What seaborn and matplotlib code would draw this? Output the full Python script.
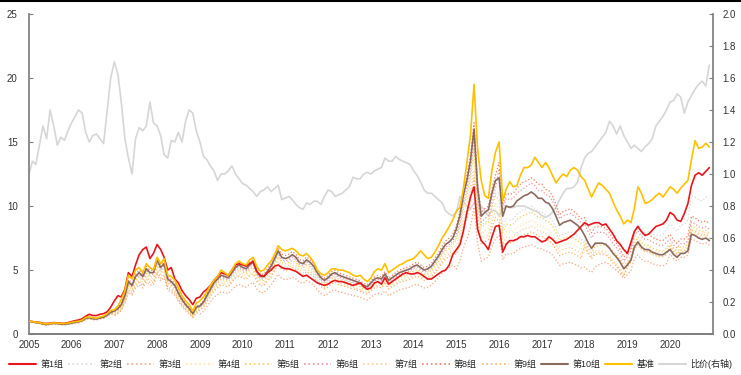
import matplotlib
matplotlib.use("Agg")
import pandas as pd
import matplotlib.pyplot as plt
import seaborn as sns
from matplotlib.lines import Line2D

# monthly values, Jan 2005 - Dec 2020
dates = pd.date_range("2005-01-01", periods=192, freq="MS")

benchmark = [
    1.00, 0.98, 0.92, 0.90, 0.82, 0.80, 0.84, 0.88, 0.86, 0.83, 0.82, 0.86,
    0.92, 0.98, 1.00, 1.10, 1.30, 1.35, 1.28, 1.25, 1.35, 1.42, 1.60, 1.85,
    1.90, 2.20, 2.70, 3.40, 4.60, 4.30, 5.00, 5.20, 4.80, 5.50, 5.20, 5.00,
    6.00, 5.50, 5.90, 4.60, 4.50, 4.20, 3.60, 3.00, 2.60, 2.30, 1.80, 2.40,
    2.60, 2.90, 3.30, 3.80, 4.20, 4.50, 5.00, 4.80, 4.60, 5.00, 5.50, 5.70,
    5.50, 5.40, 5.80, 6.00, 5.30, 4.90, 5.00, 5.40, 5.70, 6.20, 6.90, 6.60,
    6.50, 6.60, 6.70, 6.50, 6.20, 6.10, 6.30, 6.00, 5.60, 5.00, 4.70, 4.60,
    4.80, 5.10, 5.10, 5.00, 5.00, 4.90, 4.80, 4.60, 4.50, 4.60, 4.30, 4.10,
    4.40, 4.90, 5.10, 5.00, 5.50, 4.80, 5.00, 5.20, 5.40, 5.50, 5.70, 5.80,
    5.90, 6.20, 6.50, 6.20, 5.90, 6.00, 6.40, 6.90, 7.50, 7.90, 8.40, 8.90,
    9.60, 9.90, 11.3, 13.4, 15.5, 19.5, 14.5, 12.0, 10.8, 10.6, 12.8, 14.2,
    15.0, 10.4, 11.3, 11.9, 11.5, 11.6, 12.4, 13.0, 13.0, 13.2, 13.8, 13.4,
    13.0, 13.4, 13.0, 12.4, 11.8, 12.2, 12.5, 12.3, 12.8, 13.0, 12.8, 12.3,
    12.0, 11.3, 10.7, 11.3, 11.8, 11.6, 11.3, 11.0, 10.3, 9.70, 9.20, 8.60,
    8.90, 8.70, 9.80, 11.5, 11.0, 10.2, 10.3, 10.5, 10.8, 11.0, 10.7, 11.1,
    11.5, 11.3, 11.0, 11.4, 11.7, 12.0, 13.6, 15.1, 14.5, 14.6, 14.9, 14.6,
]

group1 = [
    1.00, 0.98, 0.93, 0.92, 0.85, 0.83, 0.86, 0.90, 0.88, 0.85, 0.84, 0.90,
    0.98, 1.05, 1.10, 1.20, 1.40, 1.55, 1.45, 1.45, 1.55, 1.60, 1.75, 2.10,
    2.60, 3.00, 2.90, 3.50, 4.80, 4.50, 5.40, 6.20, 6.60, 6.80, 5.90, 6.30,
    7.00, 6.60, 6.00, 5.00, 5.20, 4.30, 4.00, 3.40, 3.00, 2.70, 2.30, 2.80,
    2.90, 3.30, 3.50, 3.80, 4.20, 4.50, 4.80, 4.70, 4.60, 5.00, 5.40, 5.50,
    5.40, 5.30, 5.50, 5.70, 4.90, 4.60, 4.50, 4.80, 5.00, 5.30, 5.40, 5.20,
    5.10, 5.10, 5.00, 4.90, 4.70, 4.50, 4.60, 4.40, 4.20, 4.00, 3.90, 3.80,
    3.90, 4.10, 4.20, 4.10, 4.10, 4.00, 3.90, 3.80, 3.90, 4.00, 3.70, 3.50,
    3.60, 4.00, 4.10, 3.90, 4.40, 3.90, 4.10, 4.30, 4.50, 4.70, 4.80, 4.70,
    4.70, 4.80, 4.70, 4.50, 4.30, 4.30, 4.50, 4.70, 4.90, 5.00, 5.40, 6.20,
    6.60, 7.00, 8.00, 9.50, 10.7, 11.5, 8.20, 7.30, 7.00, 6.60, 7.60, 8.40,
    8.50, 6.40, 7.00, 7.30, 7.30, 7.40, 7.60, 7.60, 7.70, 7.60, 7.60, 7.40,
    7.20, 7.30, 7.60, 7.40, 7.10, 7.20, 7.30, 7.40, 7.60, 7.80, 8.10, 8.40,
    8.70, 8.50, 8.60, 8.70, 8.70, 8.50, 8.60, 8.20, 7.80, 7.30, 7.00, 6.60,
    6.30, 7.20, 8.00, 8.40, 8.00, 7.70, 7.80, 8.10, 8.40, 8.50, 8.60, 8.90,
    9.50, 9.30, 8.90, 8.80, 9.40, 10.2, 11.6, 12.4, 12.6, 12.4, 12.7, 13.0,
]

group2 = [
    1.00, 0.97, 0.90, 0.88, 0.78, 0.75, 0.80, 0.84, 0.82, 0.78, 0.77, 0.80,
    0.86, 0.92, 0.95, 1.05, 1.22, 1.28, 1.20, 1.18, 1.26, 1.32, 1.48, 1.70,
    1.71, 1.90, 2.19, 2.85, 3.90, 3.61, 4.28, 4.56, 4.28, 4.85, 4.56, 4.56,
    5.51, 4.94, 5.23, 4.09, 3.90, 3.61, 3.04, 2.57, 2.19, 1.90, 1.52, 2.00,
    2.09, 2.38, 2.85, 3.33, 3.80, 4.09, 4.37, 4.28, 4.18, 4.56, 4.94, 5.13,
    4.94, 4.85, 5.13, 5.32, 4.66, 4.28, 4.28, 4.66, 5.04, 5.61, 6.18, 5.70,
    5.61, 5.70, 5.89, 5.70, 5.32, 5.23, 5.51, 5.32, 5.04, 4.56, 4.18, 3.99,
    4.18, 4.47, 4.56, 4.37, 4.28, 4.18, 4.09, 3.99, 3.90, 3.80, 3.61, 3.52,
    3.80, 4.09, 4.18, 4.09, 4.47, 3.99, 4.18, 4.37, 4.56, 4.66, 4.75, 4.85,
    5.04, 5.13, 4.94, 4.75, 4.85, 5.04, 5.42, 5.80, 6.27, 6.65, 6.84, 7.13,
    7.54, 8.56, 9.94, 11.0, 12.4, 14.7, 10.6, 8.46, 8.74, 8.92, 10.1, 11.0,
    11.0, 8.28, 9.00, 8.91, 9.00, 9.36, 9.54, 9.72, 9.81, 9.99, 9.81, 9.54,
    9.54, 9.27, 9.18, 8.82, 8.28, 7.65, 7.83, 7.92, 8.01, 7.83, 7.65, 7.38,
    7.32, 6.82, 6.50, 6.96, 7.03, 7.10, 7.07, 6.83, 6.49, 6.24, 5.88, 5.46,
    6.21, 6.73, 7.96, 8.50, 8.09, 7.92, 7.99, 7.81, 7.75, 7.69, 7.81, 8.19,
    8.71, 8.25, 8.04, 8.51, 8.57, 8.90, 10.8, 10.7, 10.5, 10.4, 10.7, 10.6,
]

group3 = [
    1.00, 0.93, 0.85, 0.83, 0.73, 0.70, 0.75, 0.79, 0.77, 0.73, 0.72, 0.75,
    0.81, 0.86, 0.89, 0.99, 1.15, 1.20, 1.13, 1.11, 1.18, 1.24, 1.39, 1.60,
    1.44, 1.60, 1.84, 2.40, 3.28, 3.04, 3.60, 3.84, 3.60, 4.08, 3.84, 3.84,
    4.64, 4.16, 4.40, 3.44, 3.28, 3.04, 2.56, 2.16, 1.84, 1.60, 1.28, 1.68,
    1.58, 1.80, 2.16, 2.52, 2.88, 3.10, 3.31, 3.24, 3.17, 3.46, 3.74, 3.89,
    3.74, 3.67, 3.89, 4.03, 3.53, 3.24, 3.24, 3.53, 3.82, 4.25, 4.68, 4.32,
    4.25, 4.32, 4.46, 4.32, 4.03, 3.96, 4.18, 4.03, 3.82, 3.46, 3.17, 3.02,
    3.17, 3.38, 3.46, 3.31, 3.24, 3.17, 3.10, 3.02, 2.95, 2.88, 2.74, 2.66,
    2.88, 3.10, 3.17, 3.10, 3.38, 3.02, 3.17, 3.31, 3.46, 3.53, 3.60, 3.67,
    3.82, 3.89, 3.74, 3.60, 3.67, 3.82, 4.10, 4.39, 4.75, 5.04, 5.18, 5.40,
    5.08, 5.77, 6.70, 7.44, 8.37, 9.92, 7.13, 5.70, 5.89, 6.01, 6.82, 7.44,
    7.69, 5.80, 6.30, 6.24, 6.30, 6.55, 6.68, 6.80, 6.87, 6.99, 6.87, 6.68,
    6.68, 6.49, 6.43, 6.17, 5.80, 5.36, 5.48, 5.54, 5.61, 5.48, 5.36, 5.17,
    5.24, 4.97, 4.82, 5.25, 5.40, 5.54, 5.60, 5.43, 5.17, 4.98, 4.70, 4.34,
    4.64, 4.99, 5.85, 6.19, 5.85, 5.68, 5.68, 5.50, 5.42, 5.33, 5.33, 5.50,
    6.27, 5.89, 5.70, 5.99, 5.99, 6.18, 7.41, 7.32, 7.13, 7.03, 7.13, 6.94,
]

group4 = [
    1.00, 0.95, 0.88, 0.85, 0.76, 0.73, 0.78, 0.81, 0.80, 0.76, 0.75, 0.78,
    0.83, 0.89, 0.92, 1.02, 1.18, 1.24, 1.16, 1.14, 1.22, 1.28, 1.44, 1.65,
    1.62, 1.80, 2.07, 2.70, 3.69, 3.42, 4.05, 4.32, 4.05, 4.59, 4.32, 4.32,
    5.22, 4.68, 4.95, 3.87, 3.69, 3.42, 2.88, 2.43, 2.07, 1.80, 1.44, 1.89,
    1.98, 2.25, 2.70, 3.15, 3.60, 3.87, 4.14, 4.05, 3.96, 4.32, 4.68, 4.86,
    4.68, 4.59, 4.86, 5.04, 4.41, 4.05, 4.05, 4.41, 4.77, 5.31, 5.85, 5.40,
    5.31, 5.40, 5.58, 5.40, 5.04, 4.95, 5.22, 5.04, 4.77, 4.32, 3.96, 3.78,
    3.96, 4.23, 4.32, 4.14, 4.05, 3.96, 3.87, 3.78, 3.69, 3.60, 3.42, 3.33,
    3.60, 3.87, 3.96, 3.87, 4.23, 3.78, 3.96, 4.14, 4.32, 4.41, 4.50, 4.59,
    4.77, 4.86, 4.68, 4.50, 4.59, 4.77, 5.13, 5.49, 5.94, 6.30, 6.48, 6.75,
    6.97, 7.91, 9.18, 10.2, 11.5, 13.6, 9.78, 7.82, 8.08, 8.25, 9.35, 10.2,
    9.76, 7.36, 8.00, 7.92, 8.00, 8.32, 8.48, 8.64, 8.72, 8.88, 8.72, 8.48,
    8.48, 8.24, 8.16, 7.84, 7.36, 6.80, 6.96, 7.04, 7.12, 6.96, 6.80, 6.56,
    7.08, 6.53, 6.16, 6.53, 6.53, 6.53, 6.44, 6.16, 5.80, 5.52, 5.15, 4.69,
    5.56, 5.97, 7.00, 7.42, 7.00, 6.80, 6.80, 6.59, 6.49, 6.39, 6.39, 6.59,
    7.00, 6.57, 6.36, 6.68, 6.68, 6.89, 8.27, 8.16, 7.95, 7.84, 7.95, 7.74,
]

group5 = [
    1.00, 0.95, 0.88, 0.86, 0.76, 0.74, 0.78, 0.82, 0.80, 0.76, 0.75, 0.78,
    0.84, 0.90, 0.93, 1.03, 1.20, 1.25, 1.18, 1.16, 1.23, 1.29, 1.45, 1.67,
    1.67, 1.86, 2.14, 2.79, 3.81, 3.53, 4.19, 4.46, 4.19, 4.74, 4.46, 4.46,
    5.39, 4.84, 5.12, 4.00, 3.81, 3.53, 2.98, 2.51, 2.14, 1.86, 1.49, 1.95,
    2.05, 2.33, 2.79, 3.26, 3.72, 4.00, 4.28, 4.19, 4.09, 4.46, 4.84, 5.02,
    4.84, 4.74, 5.02, 5.21, 4.56, 4.19, 4.19, 4.56, 4.93, 5.49, 6.05, 5.58,
    5.49, 5.58, 5.77, 5.58, 5.21, 5.12, 5.39, 5.21, 4.93, 4.46, 4.09, 3.91,
    4.09, 4.37, 4.46, 4.28, 4.19, 4.09, 4.00, 3.91, 3.81, 3.72, 3.53, 3.44,
    3.72, 4.00, 4.09, 4.00, 4.37, 3.91, 4.09, 4.28, 4.46, 4.56, 4.65, 4.74,
    4.93, 5.02, 4.84, 4.65, 4.74, 4.93, 5.30, 5.67, 6.14, 6.51, 6.70, 6.98,
    7.38, 8.37, 9.72, 10.8, 12.2, 14.4, 10.4, 8.28, 8.55, 8.73, 9.90, 10.8,
    10.5, 7.91, 8.60, 8.51, 8.60, 8.94, 9.12, 9.29, 9.37, 9.55, 9.37, 9.12,
    9.12, 8.86, 8.77, 8.43, 7.91, 7.31, 7.48, 7.57, 7.65, 7.48, 7.31, 7.05,
    7.20, 6.70, 6.36, 6.82, 6.89, 6.96, 6.93, 6.70, 6.36, 6.12, 5.77, 5.30,
    5.67, 6.09, 7.14, 7.56, 7.14, 6.93, 6.93, 6.72, 6.62, 6.51, 6.51, 6.72,
    7.13, 6.70, 6.48, 6.80, 6.80, 7.02, 8.42, 8.32, 8.10, 7.99, 8.10, 7.88,
]

group6 = [
    1.00, 0.96, 0.89, 0.87, 0.77, 0.74, 0.79, 0.83, 0.81, 0.77, 0.76, 0.79,
    0.85, 0.91, 0.94, 1.04, 1.21, 1.27, 1.19, 1.17, 1.25, 1.31, 1.47, 1.68,
    1.75, 1.94, 2.23, 2.91, 3.98, 3.69, 4.37, 4.66, 4.37, 4.95, 4.66, 4.66,
    5.63, 5.04, 5.34, 4.17, 3.98, 3.69, 3.10, 2.62, 2.23, 1.94, 1.55, 2.04,
    2.13, 2.43, 2.91, 3.40, 3.88, 4.17, 4.46, 4.37, 4.27, 4.66, 5.04, 5.24,
    5.04, 4.95, 5.24, 5.43, 4.75, 4.37, 4.37, 4.75, 5.14, 5.72, 6.31, 5.82,
    5.72, 5.82, 6.01, 5.82, 5.43, 5.34, 5.63, 5.43, 5.14, 4.66, 4.27, 4.07,
    4.27, 4.56, 4.66, 4.46, 4.37, 4.27, 4.17, 4.07, 3.98, 3.88, 3.69, 3.59,
    3.88, 4.17, 4.27, 4.17, 4.56, 4.07, 4.27, 4.46, 4.66, 4.75, 4.85, 4.95,
    5.14, 5.24, 5.04, 4.85, 4.95, 5.14, 5.53, 5.92, 6.40, 6.79, 6.98, 7.28,
    7.79, 8.84, 10.3, 11.4, 12.8, 15.2, 10.9, 8.74, 9.03, 9.22, 10.5, 11.4,
    12.9, 9.75, 10.6, 10.5, 10.6, 11.0, 11.2, 11.4, 11.6, 11.8, 11.6, 11.2,
    11.2, 10.9, 10.8, 10.4, 9.75, 9.01, 9.22, 9.33, 9.43, 9.22, 9.01, 8.69,
    8.62, 7.95, 7.50, 7.95, 7.95, 7.95, 7.84, 7.50, 7.06, 6.72, 6.27, 5.71,
    6.05, 6.50, 7.62, 8.06, 7.62, 7.39, 7.39, 7.17, 7.06, 6.94, 6.94, 7.17,
    7.39, 6.94, 6.72, 7.06, 7.06, 7.28, 8.74, 8.62, 8.40, 8.29, 8.40, 8.18,
]

group7 = [
    1.00, 0.94, 0.87, 0.85, 0.75, 0.72, 0.77, 0.81, 0.79, 0.75, 0.74, 0.77,
    0.83, 0.88, 0.91, 1.01, 1.17, 1.23, 1.15, 1.13, 1.21, 1.27, 1.42, 1.63,
    1.57, 1.74, 2.00, 2.61, 3.57, 3.31, 3.92, 4.18, 3.92, 4.44, 4.18, 4.18,
    5.05, 4.52, 4.79, 3.74, 3.57, 3.31, 2.78, 2.35, 2.00, 1.74, 1.39, 1.83,
    1.91, 2.18, 2.61, 3.05, 3.48, 3.74, 4.00, 3.92, 3.83, 4.18, 4.52, 4.70,
    4.52, 4.44, 4.70, 4.87, 4.26, 3.92, 3.92, 4.26, 4.61, 5.13, 5.66, 5.22,
    5.13, 5.22, 5.39, 5.22, 4.87, 4.79, 5.05, 4.87, 4.61, 4.18, 3.83, 3.65,
    3.83, 4.09, 4.18, 4.00, 3.92, 3.83, 3.74, 3.65, 3.57, 3.48, 3.31, 3.22,
    3.48, 3.74, 3.83, 3.74, 4.09, 3.65, 3.83, 4.00, 4.18, 4.26, 4.35, 4.44,
    4.61, 4.70, 4.52, 4.35, 4.44, 4.61, 4.96, 5.31, 5.74, 6.09, 6.26, 6.53,
    6.56, 7.44, 8.64, 9.60, 10.8, 12.8, 9.20, 7.36, 7.60, 7.76, 8.80, 9.60,
    9.27, 6.99, 7.60, 7.52, 7.60, 7.90, 8.06, 8.21, 8.28, 8.44, 8.28, 8.06,
    8.06, 7.83, 7.75, 7.45, 6.99, 6.46, 6.61, 6.69, 6.76, 6.61, 6.46, 6.23,
    6.93, 6.39, 6.03, 6.39, 6.39, 6.39, 6.30, 6.03, 5.67, 5.40, 5.04, 4.59,
    5.24, 5.63, 6.60, 6.98, 6.60, 6.40, 6.40, 6.21, 6.11, 6.01, 6.01, 6.21,
    6.73, 6.32, 6.12, 6.43, 6.43, 6.63, 7.96, 7.85, 7.65, 7.55, 7.65, 7.45,
]

group8 = [
    1.00, 0.97, 0.91, 0.89, 0.79, 0.76, 0.81, 0.85, 0.83, 0.79, 0.78, 0.82,
    0.88, 0.94, 0.97, 1.07, 1.25, 1.31, 1.23, 1.21, 1.29, 1.35, 1.52, 1.75,
    1.87, 2.08, 2.39, 3.12, 4.26, 3.95, 4.68, 4.99, 4.68, 5.30, 4.99, 4.99,
    6.03, 5.41, 5.72, 4.47, 4.26, 3.95, 3.33, 2.81, 2.39, 2.08, 1.66, 2.18,
    2.29, 2.60, 3.12, 3.64, 4.16, 4.47, 4.78, 4.68, 4.58, 4.99, 5.41, 5.62,
    5.41, 5.30, 5.62, 5.82, 5.10, 4.68, 4.68, 5.10, 5.51, 6.14, 6.76, 6.24,
    6.14, 6.24, 6.45, 6.24, 5.82, 5.72, 6.03, 5.82, 5.51, 4.99, 4.58, 4.37,
    4.58, 4.89, 4.99, 4.78, 4.68, 4.58, 4.47, 4.37, 4.26, 4.16, 3.95, 3.85,
    4.16, 4.47, 4.58, 4.47, 4.89, 4.37, 4.58, 4.78, 4.99, 5.10, 5.20, 5.30,
    5.51, 5.62, 5.41, 5.20, 5.30, 5.51, 5.93, 6.34, 6.86, 7.28, 7.49, 7.80,
    8.45, 9.58, 11.1, 12.4, 13.9, 16.5, 11.8, 9.48, 9.79, 9.99, 11.3, 12.4,
    13.4, 10.1, 11.0, 10.9, 11.0, 11.4, 11.7, 11.9, 12.0, 12.2, 12.0, 11.7,
    11.7, 11.3, 11.2, 10.8, 10.1, 9.35, 9.57, 9.68, 9.79, 9.57, 9.35, 9.02,
    9.09, 8.38, 7.91, 8.38, 8.38, 8.38, 8.26, 7.91, 7.43, 7.08, 6.61, 6.02,
    6.37, 6.84, 8.02, 8.50, 8.02, 7.79, 7.79, 7.55, 7.43, 7.32, 7.32, 7.55,
    7.79, 7.32, 7.08, 7.43, 7.43, 7.67, 9.20, 9.09, 8.85, 8.73, 8.85, 8.61,
]

group9 = [
    1.00, 0.94, 0.86, 0.84, 0.74, 0.71, 0.76, 0.80, 0.78, 0.74, 0.73, 0.76,
    0.82, 0.87, 0.90, 1.00, 1.16, 1.22, 1.14, 1.12, 1.20, 1.25, 1.41, 1.62,
    1.51, 1.68, 1.93, 2.52, 3.44, 3.19, 3.78, 4.03, 3.78, 4.28, 4.03, 4.03,
    4.87, 4.37, 4.62, 3.61, 3.44, 3.19, 2.69, 2.27, 1.93, 1.68, 1.34, 1.76,
    1.85, 2.10, 2.52, 2.94, 3.36, 3.61, 3.86, 3.78, 3.70, 4.03, 4.37, 4.54,
    4.37, 4.28, 4.54, 4.70, 4.12, 3.78, 3.78, 4.12, 4.45, 4.96, 5.46, 5.04,
    4.96, 5.04, 5.21, 5.04, 4.70, 4.62, 4.87, 4.70, 4.45, 4.03, 3.70, 3.53,
    3.70, 3.95, 4.03, 3.86, 3.78, 3.70, 3.61, 3.53, 3.44, 3.36, 3.19, 3.11,
    3.36, 3.61, 3.70, 3.61, 3.95, 3.53, 3.70, 3.86, 4.03, 4.12, 4.20, 4.28,
    4.45, 4.54, 4.37, 4.20, 4.28, 4.45, 4.79, 5.12, 5.54, 5.88, 6.05, 6.30,
    6.23, 7.07, 8.21, 9.12, 10.3, 12.2, 8.74, 6.99, 7.22, 7.37, 8.36, 9.12,
    8.78, 6.62, 7.20, 7.13, 7.20, 7.49, 7.63, 7.78, 7.85, 7.99, 7.85, 7.63,
    7.63, 7.42, 7.34, 7.06, 6.62, 6.12, 6.26, 6.34, 6.41, 6.26, 6.12, 5.90,
    6.78, 6.25, 5.90, 6.25, 6.25, 6.25, 6.16, 5.90, 5.54, 5.28, 4.93, 4.49,
    5.29, 5.68, 6.66, 7.06, 6.66, 6.47, 6.47, 6.27, 6.17, 6.08, 6.08, 6.27,
    6.86, 6.45, 6.24, 6.55, 6.55, 6.76, 8.11, 8.01, 7.80, 7.70, 7.80, 7.59,
]

group10 = [
    1.00, 0.97, 0.90, 0.88, 0.78, 0.75, 0.80, 0.84, 0.82, 0.78, 0.77, 0.80,
    0.86, 0.92, 0.95, 1.05, 1.22, 1.28, 1.20, 1.18, 1.26, 1.32, 1.48, 1.70,
    1.80, 2.00, 2.30, 3.00, 4.10, 3.80, 4.50, 4.80, 4.50, 5.10, 4.80, 4.80,
    5.80, 5.20, 5.50, 4.30, 4.10, 3.80, 3.20, 2.70, 2.30, 2.00, 1.60, 2.10,
    2.20, 2.50, 3.00, 3.50, 4.00, 4.30, 4.60, 4.50, 4.40, 4.80, 5.20, 5.40,
    5.20, 5.10, 5.40, 5.60, 4.90, 4.50, 4.50, 4.90, 5.30, 5.90, 6.50, 6.00,
    5.90, 6.00, 6.20, 6.00, 5.60, 5.50, 5.80, 5.60, 5.30, 4.80, 4.40, 4.20,
    4.40, 4.70, 4.80, 4.60, 4.50, 4.40, 4.30, 4.20, 4.10, 4.00, 3.80, 3.70,
    4.00, 4.30, 4.40, 4.30, 4.70, 4.20, 4.40, 4.60, 4.80, 4.90, 5.00, 5.10,
    5.30, 5.40, 5.20, 5.00, 5.10, 5.30, 5.70, 6.10, 6.60, 7.00, 7.20, 7.50,
    8.20, 9.30, 10.8, 12.0, 13.5, 16.0, 11.5, 9.20, 9.50, 9.70, 11.0, 12.0,
    12.2, 9.20, 10.0, 9.90, 10.0, 10.4, 10.6, 10.8, 10.9, 11.1, 10.9, 10.6,
    10.6, 10.3, 10.2, 9.80, 9.20, 8.50, 8.70, 8.80, 8.90, 8.70, 8.50, 8.20,
    7.70, 7.10, 6.70, 7.10, 7.10, 7.10, 7.00, 6.70, 6.30, 6.00, 5.60, 5.10,
    5.40, 5.80, 6.80, 7.20, 6.80, 6.60, 6.60, 6.40, 6.30, 6.20, 6.20, 6.40,
    6.60, 6.20, 6.00, 6.30, 6.30, 6.50, 7.80, 7.70, 7.50, 7.40, 7.50, 7.30,
]

ratio = [
    1.00, 1.08, 1.06, 1.18, 1.30, 1.22, 1.40, 1.30, 1.18, 1.23, 1.21, 1.27,
    1.32, 1.36, 1.40, 1.38, 1.26, 1.20, 1.24, 1.25, 1.22, 1.19, 1.40, 1.60,
    1.70, 1.62, 1.45, 1.22, 1.10, 1.00, 1.22, 1.29, 1.27, 1.30, 1.45, 1.32,
    1.30, 1.24, 1.12, 1.10, 1.21, 1.20, 1.26, 1.20, 1.33, 1.40, 1.38, 1.27,
    1.20, 1.11, 1.09, 1.05, 1.02, 0.96, 1.00, 1.00, 1.02, 1.05, 1.00, 0.97,
    0.94, 0.93, 0.91, 0.89, 0.86, 0.89, 0.90, 0.92, 0.89, 0.91, 0.93, 0.84,
    0.85, 0.86, 0.84, 0.81, 0.79, 0.78, 0.82, 0.81, 0.83, 0.83, 0.81, 0.86,
    0.90, 0.89, 0.86, 0.87, 0.88, 0.90, 0.92, 0.98, 0.97, 0.97, 1.00, 1.01,
    1.00, 1.02, 1.03, 1.04, 1.10, 1.08, 1.08, 1.11, 1.09, 1.08, 1.07, 1.06,
    1.02, 0.99, 0.95, 0.90, 0.88, 0.88, 0.86, 0.84, 0.82, 0.77, 0.75, 0.74,
    0.76, 0.86, 0.83, 0.80, 0.78, 0.82, 0.81, 0.80, 0.77, 0.74, 0.77, 0.77,
    0.74, 0.78, 0.80, 0.79, 0.79, 0.80, 0.80, 0.80, 0.79, 0.78, 0.77, 0.76,
    0.74, 0.73, 0.74, 0.76, 0.79, 0.84, 0.88, 0.91, 0.91, 0.92, 0.95, 1.04,
    1.10, 1.13, 1.14, 1.17, 1.20, 1.23, 1.26, 1.33, 1.30, 1.25, 1.30, 1.24,
    1.20, 1.16, 1.18, 1.16, 1.14, 1.17, 1.19, 1.22, 1.30, 1.33, 1.36, 1.40,
    1.45, 1.46, 1.50, 1.48, 1.38, 1.45, 1.49, 1.53, 1.56, 1.58, 1.55, 1.68,
]

year_ticks = pd.date_range("2005-01-01", "2020-01-01", freq="YS")

# name, values, colour, style, width, zorder
left_series = [
    ("第1组", group1, "#e8161b", "-", 1.2, 5),
    ("第2组", group2, "#d9d9d9", ":", 0.9, 3),
    ("第3组", group3, "#f4a582", ":", 0.9, 3),
    ("第4组", group4, "#fde6a6", ":", 0.9, 3),
    ("第5组", group5, "#f8d15a", ":", 0.9, 3),
    ("第6组", group6, "#e9939f", ":", 0.9, 3),
    ("第7组", group7, "#fbd09c", ":", 0.9, 3),
    ("第8组", group8, "#ef7b5c", ":", 0.9, 3),
    ("第9组", group9, "#f8b463", ":", 0.9, 3),
    ("第10组", group10, "#8b6a5e", "-", 1.2, 4),
    ("基准", benchmark, "#ffc000", "-", 1.2, 6),
]

sns.set_theme(style="white")
plt.rcParams["font.family"] = ["Liberation Sans", "Noto Sans CJK SC", "DejaVu Sans"]

fig = plt.figure(figsize=(7.41, 3.75), dpi=100)
ax = fig.add_axes([0.039, 0.109, 0.923, 0.854])
ax2 = ax.twinx()

handles = []
for name, values, color, style, width, z in left_series:
    sns.lineplot(x=dates, y=values, ax=ax, color=color, linestyle=style,
                 linewidth=width, zorder=z)
    handles.append(Line2D([], [], color=color, linestyle=style, linewidth=width + 0.3))

sns.lineplot(x=dates, y=ratio, ax=ax2, color="#d6d6d6", linewidth=1.2)
handles.append(Line2D([], [], color="#d6d6d6", linewidth=1.5))
labels = [s[0] for s in left_series] + ["比价(右轴)"]

# grey ratio line stays behind the group lines
ax.set_zorder(ax2.get_zorder() + 1)
ax.patch.set_visible(False)

ax.set_xlim(pd.Timestamp("2005-01-01"), pd.Timestamp("2020-12-31"))
ax.set_ylim(0, 25)
ax2.set_ylim(0, 2.0)
ax.set_yticks([0, 5, 10, 15, 20, 25])
ax2.set_yticks([0, 0.2, 0.4, 0.6, 0.8, 1.0, 1.2, 1.4, 1.6, 1.8, 2.0])
ax2.set_yticklabels([f"{v:.1f}" for v in ax2.get_yticks()])
ax.set_xticks(year_ticks)
ax.set_xticklabels([str(d.year) for d in year_ticks])
ax.set_xlabel("")
ax.set_ylabel("")
ax2.set_ylabel("")

for a in (ax, ax2):
    for side in a.spines:
        a.spines[side].set_visible(False)
    a.spines["bottom"].set_visible(True)
    a.spines["bottom"].set_color("#7f7f7f")
    a.grid(False)
ax.spines["left"].set_visible(True)
ax.spines["left"].set_color("#7f7f7f")
ax2.spines["right"].set_visible(True)
ax2.spines["right"].set_color("#7f7f7f")

ax.tick_params(axis="both", direction="in", length=3, width=0.8, color="#7f7f7f",
               labelsize=7, labelcolor="#333333")
ax.tick_params(axis="y", pad=8)
ax.tick_params(axis="x", pad=4)
ax2.tick_params(axis="y", direction="in", length=3, width=0.8, color="#7f7f7f",
                labelsize=7, labelcolor="#333333", pad=7)

fig.legend(handles, labels, loc="center", bbox_to_anchor=(0.5, 0.03), ncol=12,
           frameon=False, fontsize=6.5, handlelength=3.0, handletextpad=0.5,
           columnspacing=0.5, borderaxespad=0, borderpad=0)

fig.add_artist(Line2D([0, 1], [0.998, 0.998], color="black", linewidth=1.5,
                      transform=fig.transFigure))

fig.savefig("out.png", dpi=100)
